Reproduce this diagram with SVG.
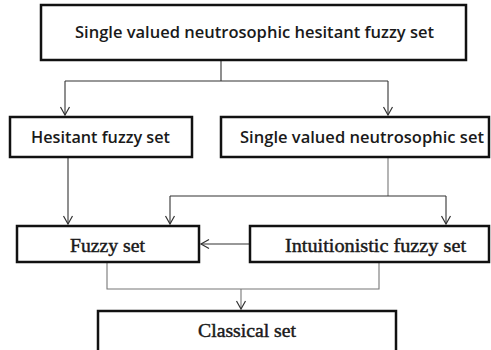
<svg xmlns="http://www.w3.org/2000/svg" width="491" height="350" viewBox="0 0 491 350">
<style>
.box{fill:#fff;stroke:#111;stroke-width:2.5}
.sans{font-family:"Open Sans","Liberation Sans",sans-serif;font-size:16.5px;font-weight:600;fill:#1a1a1a;text-anchor:middle}
.serif{font-family:"Liberation Serif","DejaVu Serif",serif;font-size:19px;fill:#1a1a1a;stroke:#1a1a1a;stroke-width:0.45;text-anchor:middle}
.c{fill:none;stroke:#333;stroke-width:1.1}
.g{fill:none;stroke:#777;stroke-width:1.1}
</style>
<defs>
<marker id="arr" markerUnits="userSpaceOnUse" markerWidth="12" markerHeight="12" viewBox="-10 -6 12 12" refX="0" refY="0" orient="auto" overflow="visible">
<path d="M-8,-4.5 L0,0 L-8,4.5" fill="none" stroke="#333" stroke-width="1.2"/>
</marker>
</defs>
<rect width="491" height="350" fill="#fff"/>
<g id="connectors">
<path class="c" d="M221,60 V81 M65,81 H388"/>
<path class="c" d="M65,81 V115" marker-end="url(#arr)"/>
<path class="c" d="M388,81 V115" marker-end="url(#arr)"/>
<path class="c" d="M68,157 V224" marker-end="url(#arr)"/>
<path class="g" d="M388,157 V196"/>
<path class="c" d="M170,196 H446"/>
<path class="c" d="M170,196 V224" marker-end="url(#arr)"/>
<path class="c" d="M446,196 V224" marker-end="url(#arr)"/>
<path class="c" d="M250,244 H201" marker-end="url(#arr)"/>
<path class="g" d="M107,262 V289 H379 V262"/>
<path class="g" d="M241,289 V309" marker-end="url(#arr)"/>
</g>
<g id="svnhfs">
<rect class="box" x="41" y="5" width="425" height="55"/>
<text class="sans" x="254.5" y="38" textLength="359" lengthAdjust="spacingAndGlyphs">Single valued neutrosophic hesitant fuzzy set</text>
</g>
<g id="hfs">
<rect class="box" x="10" y="117" width="182" height="40"/>
<text class="sans" x="100.5" y="143" textLength="139" lengthAdjust="spacingAndGlyphs">Hesitant fuzzy set</text>
</g>
<g id="svns">
<rect class="box" x="221" y="117" width="268" height="40"/>
<text class="sans" x="362" y="143" textLength="244" lengthAdjust="spacingAndGlyphs">Single valued neutrosophic set</text>
</g>
<g id="fs">
<rect class="box" x="17" y="226" width="182" height="36"/>
<text class="serif" x="107.5" y="252" textLength="75" lengthAdjust="spacingAndGlyphs">Fuzzy set</text>
</g>
<g id="ifs">
<rect class="box" x="250" y="226" width="239" height="36"/>
<text class="serif" x="375.5" y="252" textLength="181" lengthAdjust="spacingAndGlyphs">Intuitionistic fuzzy set</text>
</g>
<g id="cs">
<rect class="box" x="98" y="311" width="298" height="42"/>
<text class="serif" x="247" y="337" textLength="98" lengthAdjust="spacingAndGlyphs">Classical set</text>
</g>
</svg>
